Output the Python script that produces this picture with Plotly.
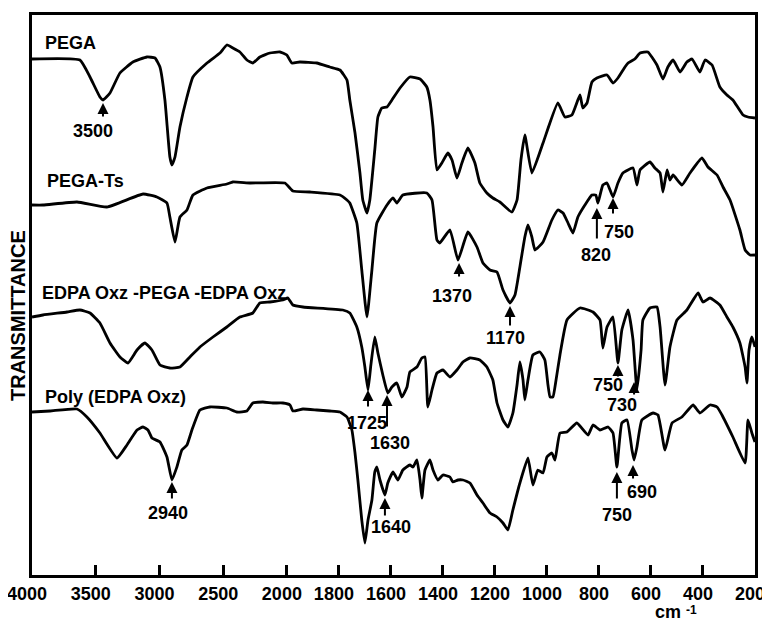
import numpy as np
import plotly.graph_objects as go

# ---------------- data (wavenumber cm-1, transmittance in arbitrary offset units) ----------------
pega_wn = [4000, 3624, 3545, 3467, 3443, 3388, 3310, 3208, 3098, 3035, 2996, 2957, 2918, 2902, 2878, 2839, 2784, 2737,
           2627, 2525, 2471, 2424, 2369, 2314, 2267, 2212, 2133, 2055, 2000, 1981, 1950, 1885, 1835, 1796, 1769, 1758,
           1738, 1719, 1708, 1692, 1681, 1662, 1650, 1635, 1615, 1596, 1565, 1527, 1488, 1462, 1450, 1438, 1423, 1404,
           1381, 1365, 1346, 1327, 1304, 1277, 1258, 1231, 1208, 1181, 1135, 1115, 1100, 1085, 1058, 1015, 958, 931,
           904, 873, 862, 846, 827, 808, 769, 746, 727, 700, 688, 662, 642, 612, 577, 554, 535, 515, 488, 462, 442,
           412, 392, 365, 335, 308, 285, 246, 227, 200]
pega_t = [516, 515, 498, 478, 475, 482, 502, 513, 518, 517, 508, 475, 418, 410, 418, 448, 478, 498,
          512, 522, 530, 527, 523, 515, 512, 518, 522, 523, 520, 512, 513, 512, 508, 505, 495, 475,
          442, 402, 375, 362, 375, 425, 458, 467, 468, 475, 487, 498, 496, 488, 475, 448, 405, 412,
          422, 415, 397, 412, 427, 412, 392, 382, 377, 373, 363, 375, 415, 440, 402, 432, 472, 458,
          460, 480, 467, 472, 493, 497, 500, 492, 497, 508, 512, 516, 522, 523, 510, 496, 508, 515, 503, 513, 516,
          503, 515, 510, 488, 480, 475, 460, 458, 457]

pegats_wn = [4000, 3914, 3647, 3412, 3129, 3020, 2941, 2918, 2878, 2839, 2784, 2737, 2627, 2471, 2424, 2290, 2016,
             1977, 1912, 1796, 1769, 1758, 1731, 1712, 1692, 1673, 1654, 1615, 1592, 1577, 1554, 1462, 1442, 1423,
             1412, 1373, 1342, 1304, 1269, 1246, 1219, 1192, 1169, 1142, 1123, 1104, 1085, 1073, 1058, 1046, 1015,
             981, 958, 938, 919, 900, 881, 854, 827, 812, 804, 785, 769, 746, 727, 708, 669, 654, 642, 604, 585,
             565, 554, 538, 527, 515, 481, 450, 404, 381, 346, 323, 296, 258, 238, 219, 200]
pegats_t = [370, 370, 373, 368, 381, 378, 372, 358, 333, 358, 365, 380, 387, 391, 393, 392, 392,
            384, 383, 380, 375, 372, 352, 305, 258, 305, 352, 370, 377, 372, 380, 382, 375, 335,
            332, 345, 315, 343, 328, 312, 305, 303, 285, 272, 280, 308, 338, 350, 338, 325, 333,
            355, 365, 362, 352, 342, 358, 370, 380, 380, 372, 390, 392, 378, 392, 402, 407, 390, 405, 413, 407,
            402, 383, 405, 395, 400, 390, 402, 417, 408, 400, 388, 375, 345, 325, 320, 320]

tri_wn = [4000, 3914, 3725, 3624, 3545, 3467, 3388, 3310, 3247, 3176, 3114, 3059, 2996, 2918, 2839, 2761, 2682,
          2580, 2471, 2369, 2267, 2212, 2133, 2031, 1996, 1977, 1938, 1785, 1758, 1731, 1712, 1700, 1688, 1677,
          1662, 1650, 1631, 1612, 1596, 1577, 1558, 1538, 1527, 1500, 1481, 1469, 1458, 1442, 1423, 1400, 1373,
          1346, 1323, 1296, 1258, 1231, 1208, 1192, 1169, 1150, 1131, 1115, 1104, 1092, 1085, 1073, 1054, 1027,
          1008, 996, 988, 977, 965, 950, 923, 873, 823, 796, 785, 769, 746, 727, 712, 688, 669, 654, 638, 631,
          604, 577, 565, 546, 527, 500, 462, 419, 400, 373, 335, 308, 285, 258, 238, 231, 223, 212, 200]
tri_t = [258, 260, 263, 265, 262, 252, 232, 218, 212, 225, 232, 225, 210, 207, 208, 218, 228,
         238, 248, 258, 262, 272, 273, 275, 277, 270, 268, 265, 262, 248, 228, 208, 185, 210,
         238, 222, 200, 182, 188, 192, 178, 188, 203, 208, 217, 218, 168, 185, 202, 205, 198,
         205, 213, 217, 215, 208, 195, 172, 155, 148, 162, 190, 213, 195, 175, 195, 220, 223,
         215, 190, 178, 178, 195, 220, 255, 267, 263, 255, 227, 248, 258, 212, 245, 265, 235, 185, 225, 255,
         267, 268, 248, 190, 228, 255, 265, 282, 273, 277, 270, 258, 248, 232, 208, 192, 225, 238, 228]

poly_wn = [4000, 3859, 3647, 3569, 3467, 3333, 3255, 3176, 3129, 3090, 3059, 2996, 2941, 2902, 2863, 2824, 2784,
           2745, 2682, 2604, 2471, 2392, 2314, 2267, 2188, 2110, 2031, 1988, 1977, 1938, 1885, 1835, 1796, 1769,
           1750, 1738, 1727, 1712, 1700, 1688, 1673, 1662, 1654, 1642, 1623, 1612, 1592, 1573, 1554, 1527, 1515,
           1500, 1488, 1481, 1469, 1450, 1438, 1419, 1400, 1373, 1362, 1342, 1323, 1296, 1269, 1246, 1219, 1192,
           1169, 1150, 1131, 1104, 1073, 1054, 1035, 1015, 1000, 981, 969, 950, 923, 885, 842, 823, 796, 765, 746,
           731, 712, 692, 673, 665, 654, 635, 592, 573, 546, 519, 481, 438, 412, 373, 346, 327, 285, 238, 227, 212, 200]
poly_t = [163, 164, 166, 158, 142, 117, 130, 145, 148, 145, 137, 133, 118, 95, 108, 125, 130,
          145, 165, 168, 167, 163, 164, 172, 173, 172, 172, 170, 164, 166, 165, 164, 163, 158,
          145, 122, 95, 55, 32, 55, 75, 103, 108, 95, 80, 92, 103, 95, 105, 110, 108,
          115, 95, 77, 105, 115, 105, 95, 100, 98, 93, 95, 95, 92, 80, 72, 62, 58,
          52, 45, 65, 92, 117, 90, 105, 102, 118, 122, 115, 142, 143, 152, 140, 150, 145, 148, 142,
          108, 152, 155, 125, 115, 128, 155, 162, 160, 125, 152, 158, 170, 162, 170, 168, 160, 138, 112, 155, 142, 133]

# peak labels: text, wavenumber at arrow tip, transmittance at tip
peak_text = ["3500", "2940", "1370", "1170", "820", "750", "1725", "1630", "750", "730", "1640", "750", "690"]
peak_wn = [3443, 2902, 1338, 1142, 808, 746, 1688, 1615, 727, 665, 1623, 731, 669]
peak_t = [472, 93, 312, 269, 367, 377, 185, 180, 210, 193, 77, 103, 110]

x_tick_vals = [4000, 3500, 3000, 2500, 2000, 1800, 1600, 1400, 1200, 1000, 800, 600, 400, 200]
series_names = ["PEGA", "PEGA-Ts", "EDPA Oxz -PEGA -EDPA Oxz", "Poly (EDPA Oxz)"]

# ---------------- styling ----------------
# arrow length (px), text offset dx, dy (px, from arrow tip)
arrow_len = [15, 18, 15, 21, 32, 17, 18, 33, 13, 14, 19, 28, 15]
text_dx = [-10, -4, -7, -5, -1, 6, -1, 3, -10, -12, 6, 0, 9]
text_dy = [28, 31, 33, 32, 47, 34, 33, 48, 20, 23, 29, 43, 27]


def u(w):
    """Split wavenumber scale: 4000-2000 at half the scale of 2000-200."""
    w = np.asarray(w, dtype=float)
    return np.where(w > 2000, 2000 + 0.49 * (w - 2000), w)


FONT = "Liberation Sans, Arial, sans-serif"
FS = 18
# page is offset by the default 8px body margin
OFF = 8
PX0, PY0, PX1, PY1 = 32, 15, 755, 575          # plot area in page pixels
W, H = 770 - OFF, 623 - OFF
L, T = PX0 - OFF, PY0 - OFF
R, B = W + OFF - PX1, H + OFF - PY1
PW, PH = PX1 - PX0, PY1 - PY0

fig = go.Figure()
for wn, tt in [(pega_wn, pega_t), (pegats_wn, pegats_t), (tri_wn, tri_t), (poly_wn, poly_t)]:
    fig.add_trace(go.Scatter(x=u(wn), y=tt, mode="lines",
                             line=dict(color="black", width=2.8, shape="spline", smoothing=0.4),
                             showlegend=False, hoverinfo="skip"))

ann = []
for txt, w, t, al, dx, dy in zip(peak_text, peak_wn, peak_t, arrow_len, text_dx, text_dy):
    xv = float(u(w))
    ann.append(dict(x=xv, y=t, xref="x", yref="y", text="", showarrow=True, ax=0, ay=al,
                    arrowhead=2, arrowsize=1.1, arrowwidth=2, arrowcolor="black", standoff=0, startstandoff=0))
    ann.append(dict(x=xv, y=t, xref="x", yref="y", text=f"<b>{txt}</b>", showarrow=False,
                    xshift=dx, yshift=-dy, xanchor="center", yanchor="middle",
                    font=dict(family=FONT, size=FS, color="black")))


def px(x):
    return (x - PX0) / PW


def py(y):
    return (PY1 - y) / PH


# series labels (pixel positions of left edge / vertical centre)
label_pos = [(43, 43), (45, 181), (40, 293), (43, 397)]
for name, (lx, ly) in zip(series_names, label_pos):
    ann.append(dict(x=px(lx), y=py(ly), xref="paper", yref="paper", text=f"<b>{name}</b>",
                    showarrow=False, xanchor="left", yanchor="middle",
                    font=dict(family=FONT, size=FS, color="black")))

ann.append(dict(x=px(18), y=py(316), xref="paper", yref="paper", text="<b>TRANSMITTANCE</b>",
                textangle=-90, showarrow=False, xanchor="center", yanchor="middle",
                font=dict(family=FONT, size=20, color="black")))
# unit label: "cm" with a separate superscript "-1"
ann.append(dict(x=px(683), y=py(612), xref="paper", yref="paper", text="<b>cm</b>",
                showarrow=False, xanchor="right", yanchor="middle",
                font=dict(family=FONT, size=FS, color="black")))
ann.append(dict(x=px(684), y=py(610), xref="paper", yref="paper", text="<b>-1</b>",
                showarrow=False, xanchor="left", yanchor="middle",
                font=dict(family=FONT, size=12, color="black")))

fig.update_layout(
    width=W, height=H, margin=dict(l=L, r=R, t=T, b=B, autoexpand=False),
    paper_bgcolor="white", plot_bgcolor="white",
    annotations=ann,
    xaxis=dict(range=[float(u(4000)), 200], tickvals=u(x_tick_vals).tolist(),
               ticktext=[str(v) for v in x_tick_vals],
               ticks="inside", ticklen=10, tickwidth=2.5, tickcolor="black",
               showline=True, linewidth=3, linecolor="black", mirror=True,
               showgrid=False, zeroline=False, ticklabeloverflow="allow", ticklabelshift=5,
               tickfont=dict(family=FONT, size=FS, color="black", weight="bold")),
    yaxis=dict(range=[0, 560], showticklabels=False, ticks="",
               showline=True, linewidth=3, linecolor="black", mirror=True,
               showgrid=False, zeroline=False),
)
fig.write_html("out.html")
